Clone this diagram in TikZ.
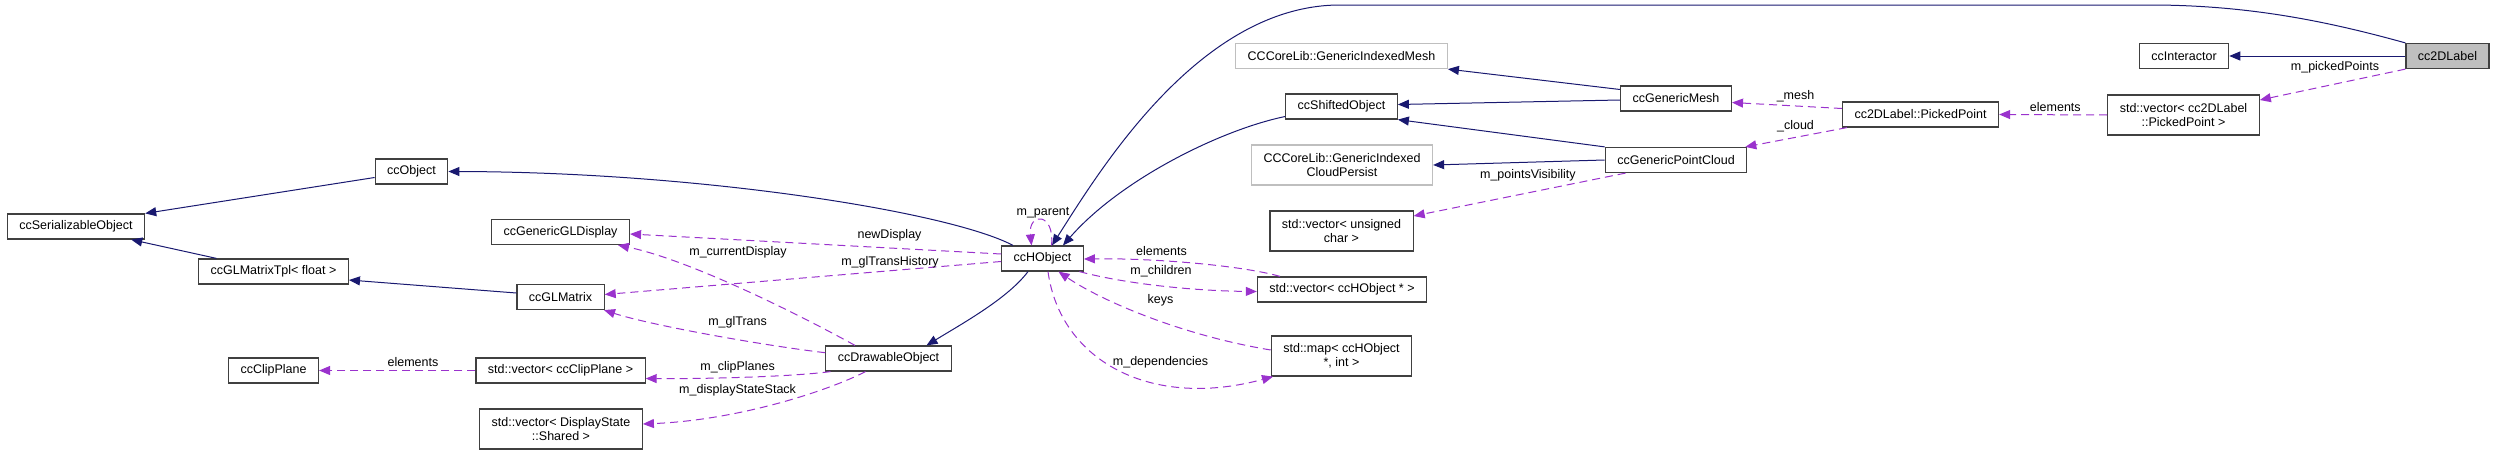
\documentclass[tikz,border=0pt]{standalone}
\usepackage{fontspec}
\setmainfont{Liberation Sans}
\usetikzlibrary{arrows.meta}
\definecolor{inhblue}{HTML}{191970}
\definecolor{memviolet}{HTML}{9A32CD}
\definecolor{boxgray}{HTML}{BFBFBF}

\begin{document}
\begin{tikzpicture}[x=1pt,y=-1pt,
    ext/.style={draw=boxgray},
    lbl/.style={font=\fontsize{12.5}{13.5}\selectfont, inner sep=0pt},
    inh/.style={draw=inhblue, line width=1pt, -{Triangle[length=11pt,width=9pt]}},
    mem/.style={draw=memviolet, line width=1pt, dash pattern=on 8pt off 5pt, -{Triangle[length=11pt,width=9pt]}}]
  \useasboundingbox (0,0) rectangle (2495,455);
  \begin{scope}[every node/.style={draw=black!75, line width=1.2pt, font=\fontsize{12.5}{13.5}\selectfont, inner xsep=12pt, minimum height=25pt, align=center}]
    \node (ser) at (76,226.5) {ccSerializableObject};
    \node (obj) at (411.5,171.5) {ccObject};
    \node (tpl) at (273.5,271.5) {ccGLMatrixTpl< float >};
    \node (clip) at (273.5,370.5) {ccClipPlane};
    \node (gldisp) at (560.5,232) {ccGenericGLDisplay};
    \node (glmat) at (560.5,297) {ccGLMatrix};
    \node (vclip) at (560.5,370.5) {std::vector< ccClipPlane >};
    \node[minimum height=40pt] (vdisp) at (561,429) {std::vector< DisplayState\\::Shared >};
    \node (drawable) at (888.5,358.5) {ccDrawableObject};
    \node (hobj) at (1042.5,258.5) {ccHObject};
    \node[ext] (imesh) at (1341.5,56) {CCCoreLib::GenericIndexedMesh};
    \node (shifted) at (1341.5,106.5) {ccShiftedObject};
    \node[ext, minimum height=40pt] (cpersist) at (1342,165) {CCCoreLib::GenericIndexed\\CloudPersist};
    \node[minimum height=40pt] (vuchar) at (1341.5,231) {std::vector< unsigned\\char >};
    \node (vhobj) at (1342,289.5) {std::vector< ccHObject * >};
    \node[minimum height=40pt] (mapdep) at (1341.5,356) {std::map< ccHObject\\*, int >};
    \node (gmesh) at (1676,98.5) {ccGenericMesh};
    \node (gcloud) at (1676,160) {ccGenericPointCloud};
    \node (picked) at (1920.5,114.5) {cc2DLabel::PickedPoint};
    \node[minimum height=40pt] (vpicked) at (2183.5,115) {std::vector< cc2DLabel\\::PickedPoint >};
    \node (inter) at (2184,56) {ccInteractor};
    \node[fill=boxgray] (twodlabel) at (2447.5,56) {cc2DLabel};
  \end{scope}
  % inheritance
  \begin{scope}[every edge/.style={inh}]
    \path ([yshift=-6pt]obj.west) edge (ser.north east);
    \path ([xshift=-57pt]tpl.north) edge ([xshift=-14pt]ser.south east);
    \path ([yshift=4pt]glmat.west) edge ([yshift=-8.5pt]tpl.east);
    \path ([yshift=9pt]gmesh.west) edge (imesh.south east);
    \path ([yshift=-1.5pt]gmesh.west) edge ([yshift=2pt]shifted.east);
    \path (gcloud.north west) edge (shifted.south east);
    \path (gcloud.west) edge (cpersist.east);
    \path (twodlabel.west) edge (inter.east);
  \end{scope}
  \draw[inh] ([xshift=-29.5pt]hobj.north) .. controls (950,212) and (700,172) .. (obj.east);
  \draw[inh] ([xshift=-14.5pt]hobj.south) .. controls (1008,298) and (965,322) .. ([xshift=38pt]drawable.north);
  \draw[inh] ([yshift=-10pt]shifted.west) .. controls (1220,130) and (1120,180) .. ([xshift=20.5pt]hobj.north);
  \draw[inh] (twodlabel.north west) .. controls (2330,22) and (2250,5) .. (2150,5) -- (1340,5)
    .. controls (1200,5) and (1100,170) .. ([xshift=9.5pt]hobj.north);
  % members
  \draw[mem] ([yshift=4.5pt]hobj.west) -- ([yshift=-2pt]gldisp.east);
  \draw[mem] ([yshift=-3pt]hobj.west) -- ([yshift=2.5pt]glmat.east);
  \draw[mem] ([xshift=-33.5pt]drawable.north) .. controls (800,315) and (690,260) .. ([xshift=57.5pt]gldisp.south);
  \draw[mem] ([yshift=5.8pt]drawable.west) .. controls (760,345) and (650,325) .. ([xshift=43.5pt]glmat.south);
  \draw[mem] ([xshift=-58pt]drawable.south) .. controls (790,377) and (700,379) .. ([yshift=-8pt]vclip.east);
  \draw[mem] ([xshift=-23pt]drawable.south) .. controls (830,390) and (740,420) .. ([yshift=5pt]vdisp.east);
  \draw[mem] (vclip.west) -- (clip.east);
  \draw[mem] ([xshift=9pt]hobj.north) .. controls (1055,212) and (1028,212) .. ([xshift=-11pt]hobj.north);
  \draw[mem] ([xshift=-62pt]vhobj.north) .. controls (1240,265) and (1150,258) .. ([yshift=-0.5pt]hobj.east);
  \draw[mem] ([xshift=-4.5pt]hobj.south east) .. controls (1130,285) and (1200,291) .. ([yshift=-2pt]vhobj.west);
  \draw[mem] ([yshift=6pt]mapdep.west) .. controls (1180,335) and (1100,300) .. ([xshift=16pt]hobj.south);
  \draw[mem] ([xshift=5.5pt]hobj.south) .. controls (1060,360) and (1150,410) .. ([xshift=-68.5pt]mapdep.south);
  \draw[mem] ([xshift=-50.5pt]gcloud.south) -- ([yshift=15pt]vuchar.east);
  \draw[mem] ([yshift=6pt]picked.west) -- ([yshift=-4pt]gmesh.east);
  \draw[mem] ([xshift=5pt]picked.south west) -- ([xshift=-2pt]gcloud.north east);
  \draw[mem] (vpicked.west) -- (picked.east);
  \draw[mem] (twodlabel.south west) -- ([yshift=15pt]vpicked.east);
  % edge labels
  \node[lbl] (lnewdisp) at (889.5,235) {newDisplay};
  \node[lbl] (lcurdisp) at (738,252.7) {m\_currentDisplay};
  \node[lbl] (lhist) at (890,262.7) {m\_glTransHistory};
  \node[lbl] (lgltrans) at (737.6,322.7) {m\_glTrans};
  \node[lbl] (lclip) at (737.6,367.7) {m\_clipPlanes};
  \node[lbl] (lstack) at (737.6,390.7) {m\_displayStateStack};
  \node[lbl] (lelemclip) at (413,362) {elements};
  \node[lbl] (lparent) at (1043,212.7) {m\_parent};
  \node[lbl] (lelemh) at (1161.5,250.7) {elements};
  \node[lbl] (lchild) at (1161,271.7) {m\_children};
  \node[lbl] (lkeys) at (1160.5,300) {keys};
  \node[lbl] (ldeps) at (1160.5,362.7) {m\_dependencies};
  \node[lbl] (lvis) at (1527.9,175.7) {m\_pointsVisibility};
  \node[lbl] (lmesh) at (1795.5,96.7) {\_mesh};
  \node[lbl] (lcloud) at (1795.5,126.7) {\_cloud};
  \node[lbl] (lelempp) at (2055.3,106.7) {elements};
  \node[lbl] (lpicked) at (2335,67.7) {m\_pickedPoints};
\end{tikzpicture}
\end{document}
